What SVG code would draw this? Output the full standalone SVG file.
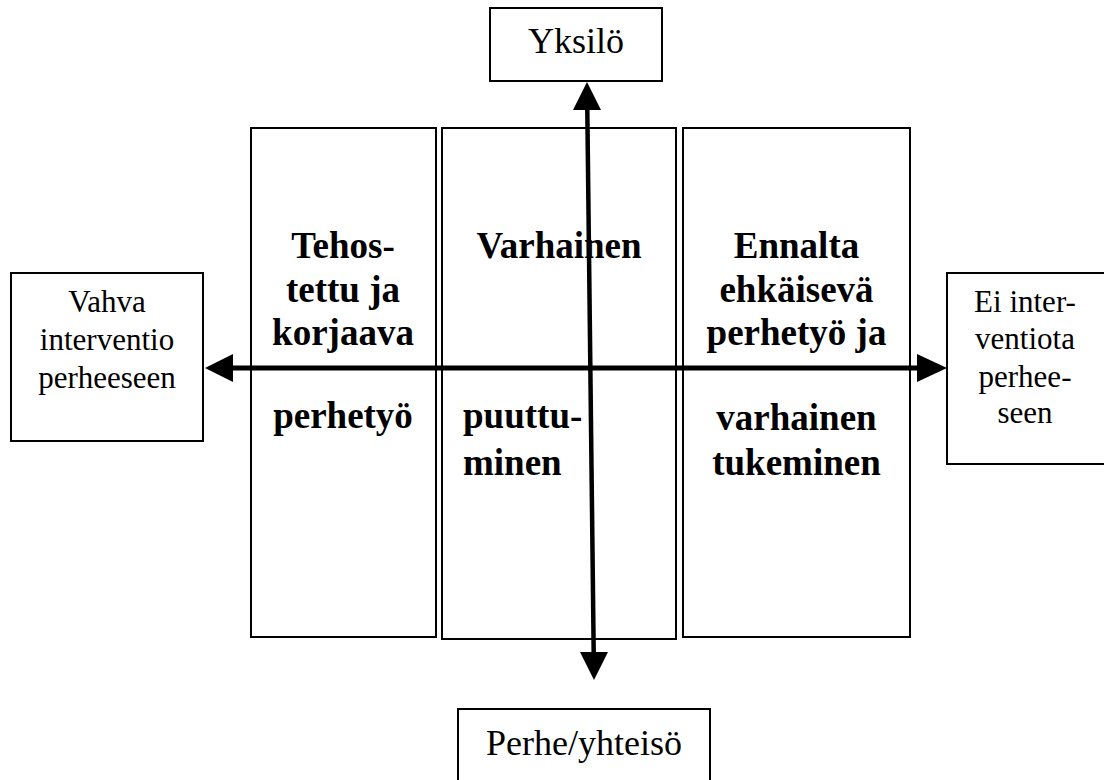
<svg xmlns="http://www.w3.org/2000/svg" width="1104" height="780" viewBox="0 0 1104 780">
<style>
.box{fill:#fff;stroke:#000;stroke-width:2}
.t{font-family:"Liberation Serif","Times New Roman",serif;fill:#000}
.lbl{font-size:36px;text-anchor:middle}
.side{font-size:31px;text-anchor:middle}
.b{font-size:37px;font-weight:bold;text-anchor:middle}
.bl{font-size:37px;font-weight:bold}
.ax{stroke:#000;fill:none}
.head{fill:#000}
</style>
<rect width="1104" height="780" fill="#fff"/>
<g id="yksilo">
<rect class="box" x="490" y="8" width="172" height="73"/>
<text class="t lbl" x="576" y="53">Yksilö</text>
</g>
<g id="perhe-yhteiso">
<rect class="box" x="458" y="709" width="252" height="90"/>
<text class="t lbl" x="584" y="755">Perhe/yhteisö</text>
</g>
<g id="vahva">
<rect class="box" x="11" y="273" width="192" height="168"/>
<text class="t side" x="107" y="312">Vahva</text>
<text class="t side" x="107" y="350">interventio</text>
<text class="t side" x="107" y="388">perheeseen</text>
</g>
<g id="ei-interventiota">
<rect class="box" x="947" y="273" width="170" height="191"/>
<text class="t side" x="1025" y="312">Ei inter-</text>
<text class="t side" x="1025" y="349">ventiota</text>
<text class="t side" x="1025" y="387">perhee-</text>
<text class="t side" x="1025" y="423">seen</text>
</g>
<g id="tehostettu">
<rect class="box" x="251" y="128" width="185" height="509"/>
<text class="t b" x="343" y="258">Tehos-</text>
<text class="t b" x="343" y="302">tettu ja</text>
<text class="t b" x="343" y="345">korjaava</text>
<text class="t b" x="343" y="428">perhetyö</text>
</g>
<g id="varhainen">
<rect class="box" x="442" y="128" width="234" height="511"/>
<text class="t b" x="559" y="258">Varhainen</text>
<text class="t bl" x="463" y="428">puuttu-</text>
<text class="t bl" x="463" y="475">minen</text>
</g>
<g id="ennalta">
<rect class="box" x="683" y="128" width="227" height="509"/>
<text class="t b" x="796.5" y="258">Ennalta</text>
<text class="t b" x="796.5" y="302">ehkäisevä</text>
<text class="t b" x="796.5" y="345">perhetyö ja</text>
<text class="t b" x="796.5" y="430">varhainen</text>
<text class="t b" x="796.5" y="475">tukeminen</text>
</g>
<g id="connectors">
<line class="ax" x1="232" y1="368" x2="918" y2="368" stroke-width="5"/>
<polygon class="head" points="205,368 233,354 233,382"/>
<polygon class="head" points="947,368 917,354 917,382"/>
<line class="ax" x1="587.3" y1="109" x2="593.7" y2="653" stroke-width="4.5"/>
<polygon class="head" points="587,82 573,110 601,110"/>
<polygon class="head" points="594,680 580,652 608,652"/>
</g>
</svg>
